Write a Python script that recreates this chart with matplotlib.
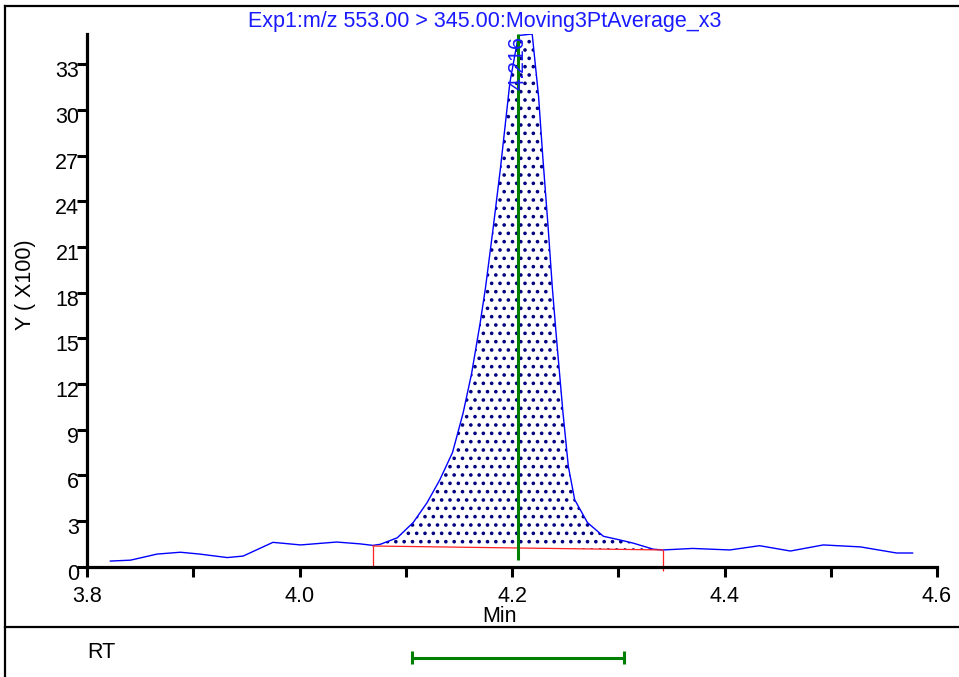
import matplotlib.pyplot as plt
import numpy as np
from matplotlib.lines import Line2D
from matplotlib import transforms

plt.rcParams['font.family'] = ['Liberation Sans', 'DejaVu Sans']
plt.rcParams['hatch.linewidth'] = 1.4

# chromatogram, time in min, intensity in units of 100
time_min = [3.822, 3.841, 3.866, 3.888, 3.906, 3.932, 3.947, 3.975, 4.001, 4.035,
            4.057, 4.069, 4.076, 4.092, 4.095, 4.107, 4.120, 4.132, 4.144, 4.154,
            4.162, 4.170, 4.175, 4.182, 4.189, 4.198, 4.206, 4.219, 4.225, 4.229,
            4.234, 4.238, 4.242, 4.248, 4.253, 4.259, 4.271, 4.286, 4.302, 4.314,
            4.333, 4.342, 4.370, 4.405, 4.433, 4.462, 4.493, 4.528, 4.562, 4.577]
intensity = [0.37, 0.43, 0.83, 0.95, 0.83, 0.60, 0.70, 1.60, 1.43, 1.62,
             1.50, 1.40, 1.47, 1.90, 2.10, 2.90, 4.20, 5.70, 7.50, 10.1,
             12.7, 16.0, 18.3, 22.1, 26.1, 31.8, 34.9, 35.0, 30.9, 26.9,
             22.3, 18.3, 14.9, 10.1, 6.6, 4.4, 2.9, 2.0, 1.75, 1.55,
             1.15, 1.10, 1.20, 1.10, 1.38, 1.03, 1.43, 1.30, 0.90, 0.90]

base_t = [4.069, 4.342]
base_y = [1.36, 1.10]
peak_rt = 4.206
peak_label = '4.216'
rt_window = [4.106, 4.305]
title = 'Exp1:m/z 553.00 > 345.00:Moving3PtAverage_x3'

W, H = 959, 677
fs = 15.5
fig = plt.figure(figsize=(W / 100, H / 100), dpi=100)
fig.patch.set_facecolor('white')
ax = fig.add_axes([87 / W, (H - 566.7) / H, 850 / W, 532.7 / H])

t = np.array(time_min)
y = np.array(intensity)
seg = (t >= base_t[0]) & (t <= base_t[1])
ax.fill_between(t[seg], np.interp(t[seg], base_t, base_y), y[seg],
                facecolor='white', edgecolor='#000080', hatch='..', linewidth=0)
ax.plot(t, y, color='#0000ff', lw=1.0)

ax.plot(base_t, base_y, color='#ff2020', lw=0.9)
ax.vlines(base_t[0], 0, base_y[0], color='#ff2020', lw=0.9)
ax.vlines(base_t[1], -0.26, base_y[1], color='#ff2020', lw=0.9, clip_on=False)

ax.vlines(peak_rt, 0.44, 35, color='#008000', lw=2.2)
ax.text(peak_rt, 33.1, peak_label, rotation=90, color='#1a1aff',
        ha='center', va='center', fontsize=fs)

ax.set_xlim(3.8, 4.6)
ax.set_ylim(0, 35)
for s in ['top', 'right']:
    ax.spines[s].set_visible(False)
for s in ['left', 'bottom']:
    ax.spines[s].set_linewidth(2.3)

ax.set_xticks(np.arange(3.8, 4.61, 0.2))
ax.set_xticklabels(['3.8', '4.0', '4.2', '4.4', '4.6'])
ax.set_xticks(np.arange(3.9, 4.6, 0.2), minor=True)
ax.set_yticks(np.arange(0, 34, 3))
ax.tick_params(which='both', direction='out', length=7, width=2.2, labelsize=fs)
ax.tick_params(axis='x', pad=7)
ax.tick_params(axis='y', pad=0)
offset = transforms.ScaledTranslation(2 / 100, -5 / 100, fig.dpi_scale_trans)
for lab in ax.get_yticklabels():
    lab.set_transform(lab.get_transform() + offset)

ax.set_xlabel('Min', fontsize=fs, va='center')
ax.xaxis.set_label_coords((500 - 87) / 850, -(617 - 566.7) / 532.7)
ax.set_ylabel('Y ( X100)', fontsize=fs, va='center')
ax.yaxis.set_label_coords((25 - 87) / 850, (566.7 - 285) / 532.7)

fig.text(484.5 / W, 1 - 22 / H, title, color='#1a1aff', ha='center', va='center', fontsize=fs)

# frame lines
fig.add_artist(Line2D([5 / W, 1], [1 - 6 / H] * 2, transform=fig.transFigure, color='black', lw=1.6))
fig.add_artist(Line2D([5 / W] * 2, [0, 1 - 6 / H], transform=fig.transFigure, color='black', lw=1.6))
fig.add_artist(Line2D([5 / W, 1], [1 - 627 / H] * 2, transform=fig.transFigure, color='black', lw=1.6))

# RT panel
fig.text(87 / W, 1 - 653 / H, 'RT', fontsize=fs, va='center')
ax2 = fig.add_axes([87 / W, 0, 850 / W, 50 / H])
ax2.set_xlim(3.8, 4.6)
ax2.set_ylim(0, 1)
ax2.axis('off')
ax2.plot(rt_window, [0.38, 0.38], color='#008000', lw=2.2)
ax2.vlines(rt_window, 0.26, 0.52, color='#008000', lw=2.2)

fig.savefig('out.png', dpi=100)
